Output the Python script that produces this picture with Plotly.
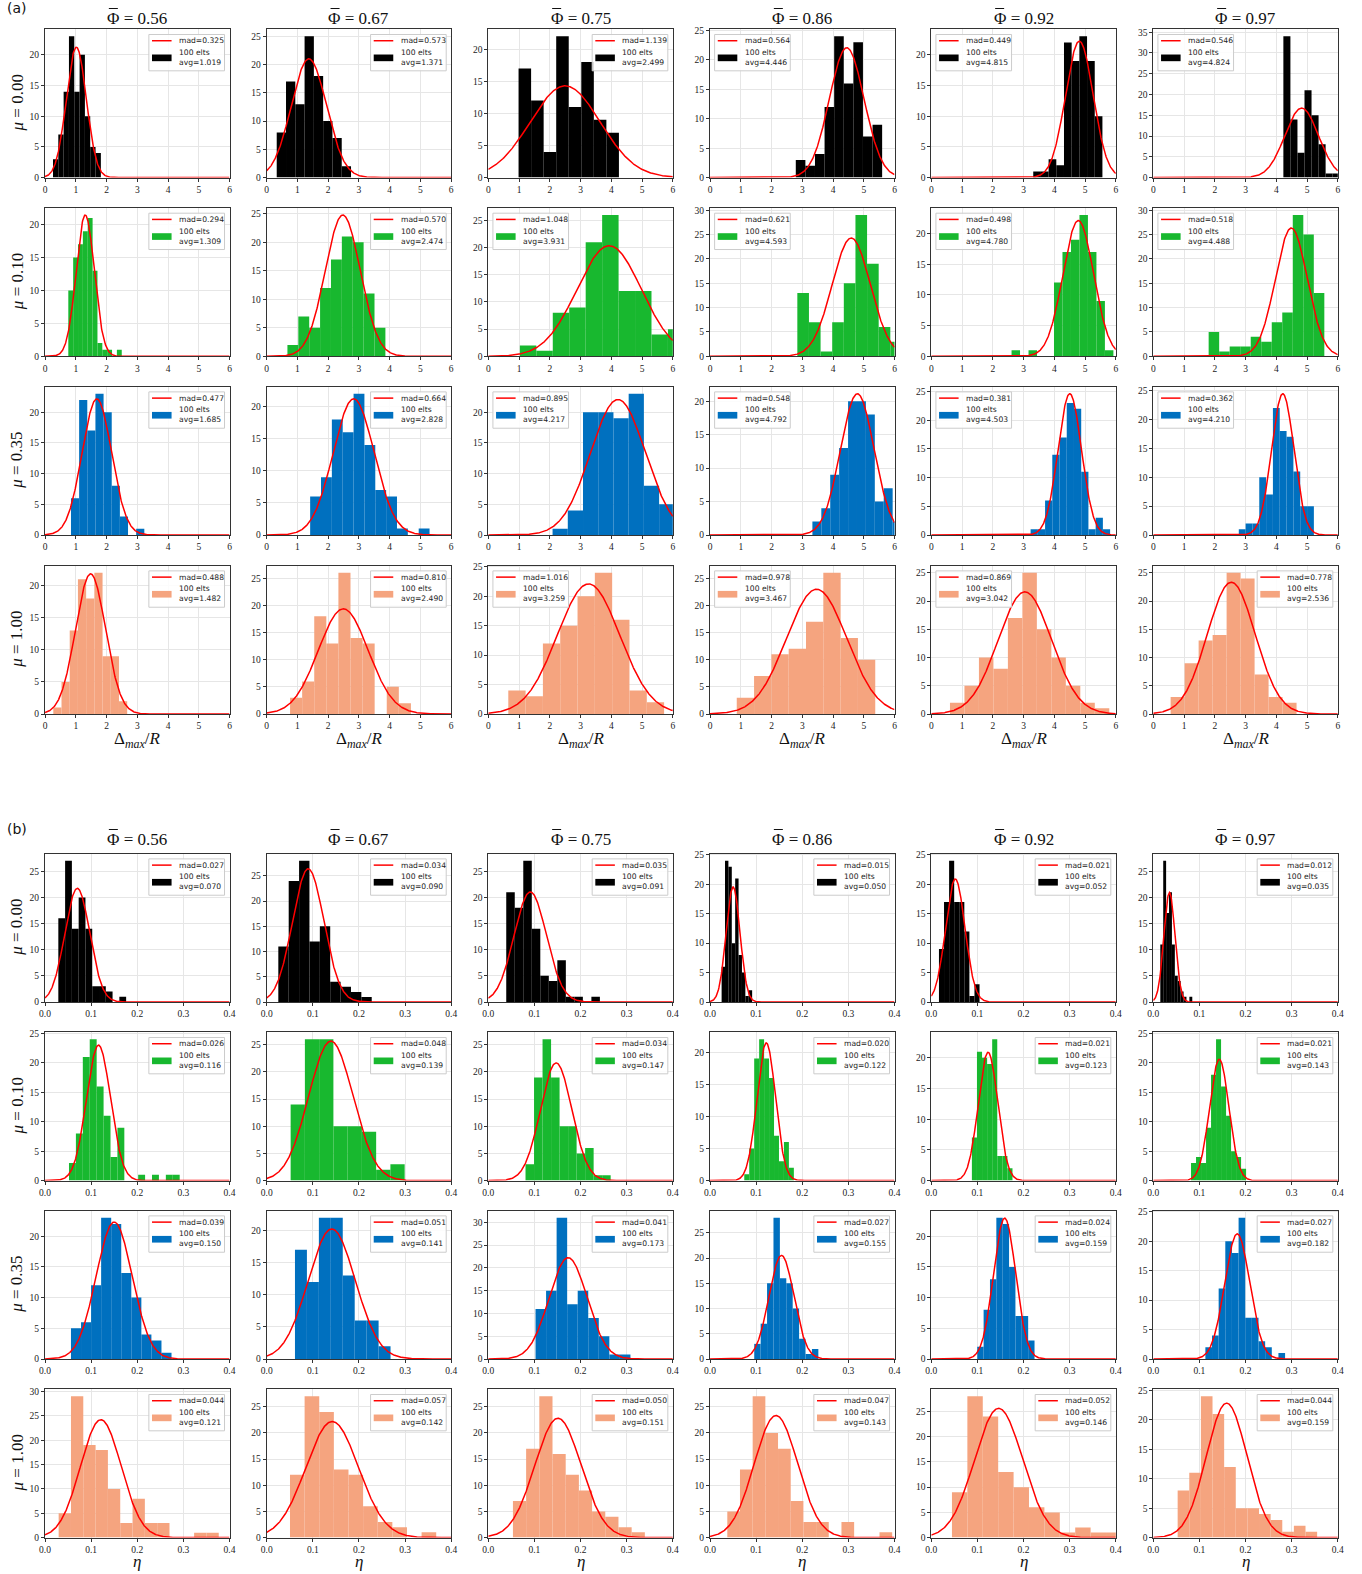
import numpy as np
import plotly.graph_objects as go

# ---------------- data ----------------
PHI_LABELS = ["0.56", "0.67", "0.75", "0.86", "0.92", "0.97"]
MU_LABELS = ["0.00", "0.10", "0.35", "1.00"]
N_ELTS = 100

# (a) Delta_max / R  -- histogram left edge, bin width, counts; stats
A_START = [
    [0.26, 0.326, 0.984, 2.79, 3.315, 4.23],
    [0.758, 0.674, 1.027, 2.84, 2.61, 1.80],
    [0.845, 1.413, 2.09, 3.33, 3.23, 2.78],
    [0.27, 0.76, 0.65, 0.87, 0.607, 0.564],
]
A_WIDTH = [
    [0.173, 0.302, 0.408, 0.312, 0.25, 0.229],
    [0.158, 0.354, 0.535, 0.378, 0.276, 0.342],
    [0.265, 0.353, 0.495, 0.29, 0.235, 0.222],
    [0.267, 0.393, 0.563, 0.563, 0.471, 0.455],
]
A_COUNTS = [
    [[3, 7, 14, 23, 14, 20, 10, 5, 4],
     [8, 17, 13, 25, 18, 10, 7, 2],
     [17, 12, 4, 22, 11, 18, 9, 7],
     [3, 2, 4, 12, 24, 16, 23, 7, 9],
     [1, 1, 3, 2, 22, 19, 23, 19, 10],
     [34, 14, 6, 21, 15, 8, 1, 1]],
    [[10, 15, 17, 19, 21, 13, 2, 1, 1, 0, 1],
     [2, 7, 5, 12, 17, 21, 20, 11, 5],
     [2, 1, 8, 9, 21, 26, 12, 12, 4, 5],
     [13, 7, 1, 7, 15, 29, 19, 6, 3],
     [1, 0, 1, 0, 0, 12, 17, 19, 23, 17, 9, 1],
     [5, 1, 2, 2, 4, 3, 7, 9, 29, 25, 13]],
    [[6, 22, 17, 23, 20, 8, 3, 0, 1],
     [6, 9, 18, 16, 22, 14, 7, 6, 1, 0, 1],
     [1, 4, 20, 20, 19, 23, 8, 5],
     [2, 4, 9, 13, 20, 20, 18, 5, 7, 2],
     [1, 1, 6, 14, 17, 23, 22, 11, 1, 3, 1],
     [1, 2, 2, 10, 7, 22, 18, 17, 11, 5, 5]],
    [[1, 5, 13, 21, 18, 22, 9, 9, 2],
     [3, 6, 18, 13, 26, 14, 13, 0, 5, 2],
     [4, 3, 12, 15, 20, 24, 16, 4, 2],
     [3, 7, 11, 12, 17, 26, 14, 10],
     [2, 5, 10, 8, 17, 25, 15, 10, 5, 2, 1],
     [3, 9, 13, 14, 25, 24, 7, 3, 2]],
]
A_AVG = [
    [1.019, 1.371, 2.499, 4.446, 4.815, 4.824],
    [1.309, 2.474, 3.931, 4.593, 4.780, 4.488],
    [1.685, 2.828, 4.217, 4.792, 4.503, 4.210],
    [1.482, 2.490, 3.259, 3.467, 3.042, 2.536],
]
A_MAD = [
    [0.325, 0.573, 1.139, 0.564, 0.449, 0.546],
    [0.294, 0.570, 1.048, 0.621, 0.498, 0.518],
    [0.477, 0.664, 0.895, 0.548, 0.381, 0.362],
    [0.488, 0.810, 1.016, 0.978, 0.869, 0.778],
]

# (b) eta
B_START = [
    [0.0289, 0.0252, 0.0389, 0.0252, 0.0166, 0.0152],
    [0.052, 0.0519, 0.0807, 0.0743, 0.088, 0.0818],
    [0.0563, 0.0613, 0.1024, 0.0959, 0.0996, 0.1129],
    [0.0296, 0.0505, 0.0534, 0.0375, 0.0448, 0.0528],
]
B_WIDTH = [
    [0.0147, 0.0225, 0.01846, 0.00735, 0.011, 0.0063],
    [0.015, 0.0309, 0.01846, 0.01075, 0.011, 0.01085],
    [0.0218, 0.0259, 0.02286, 0.0139, 0.0138, 0.0144],
    [0.0267, 0.0317, 0.0286, 0.0275, 0.0334, 0.0252],
]
B_COUNTS = [
    [[16, 27, 14, 20, 14, 3, 3, 2, 0, 1],
     [11, 24, 28, 12, 15, 4, 3, 2, 1],
     [21, 18, 27, 14, 5, 4, 8, 1, 1, 0, 1],
     [6, 24, 23, 10, 21, 8, 5, 1, 2],
     [9, 17, 24, 17, 17, 12, 1, 3],
     [11, 27, 17, 21, 11, 5, 4, 2, 1, 0, 1]],
    [[3, 8, 21, 24, 16, 11, 4, 9, 0, 0, 1, 0, 1, 0, 1, 1],
     [14, 26, 26, 10, 10, 9, 2, 3],
     [3, 19, 26, 19, 10, 10, 5, 6, 1, 1],
     [1, 5, 19, 22, 19, 16, 7, 3, 6, 2],
     [7, 21, 20, 19, 23, 4, 4, 2],
     [3, 4, 3, 9, 18, 24, 16, 11, 5, 4, 2]],
    [[5, 6, 12, 23, 22, 14, 10, 4, 3, 1],
     [17, 12, 22, 22, 13, 6, 6, 2],
     [11, 15, 31, 12, 15, 9, 5, 1, 1],
     [3, 7, 15, 28, 16, 15, 10, 4, 1, 2],
     [2, 8, 13, 23, 22, 15, 7, 7, 3],
     [2, 4, 12, 20, 18, 24, 7, 7, 3, 2, 0, 1]],
    [[5, 29, 19, 18, 10, 3, 8, 3, 3, 0, 0, 1, 1],
     [12, 27, 24, 13, 12, 6, 3, 2, 0, 1],
     [7, 17, 27, 16, 12, 9, 5, 4, 2, 1],
     [5, 13, 27, 20, 17, 7, 3, 3, 0, 3, 0, 0, 1],
     [9, 28, 24, 13, 10, 6, 5, 1, 2, 1, 1],
     [8, 11, 24, 21, 12, 5, 5, 4, 3, 1, 2, 1]],
]
B_AVG = [
    [0.070, 0.090, 0.091, 0.050, 0.052, 0.035],
    [0.116, 0.139, 0.147, 0.122, 0.123, 0.143],
    [0.150, 0.141, 0.173, 0.155, 0.159, 0.182],
    [0.121, 0.142, 0.151, 0.143, 0.146, 0.159],
]
B_MAD = [
    [0.027, 0.034, 0.035, 0.015, 0.021, 0.012],
    [0.026, 0.048, 0.034, 0.020, 0.021, 0.021],
    [0.039, 0.051, 0.041, 0.027, 0.024, 0.027],
    [0.044, 0.057, 0.050, 0.047, 0.052, 0.044],
]

A_XTICKS = [0, 1, 2, 3, 4, 5, 6]
A_XTICKTEXT = ["0", "1", "2", "3", "4", "5", "6"]
B_XTICKS = [0.0, 0.1, 0.2, 0.3, 0.4]
B_XTICKTEXT = ["0.0", "0.1", "0.2", "0.3", "0.4"]

# ---------------- style / layout ----------------
ROW_COLORS = ["#000000", "#18b82f", "#0070bf", "#f5a47f"]
A_LEGEND_LEFT = [[0, 0, 0, 1, 1, 1],
                 [0, 0, 1, 1, 1, 1],
                 [0, 0, 1, 1, 1, 1],
                 [0, 0, 1, 1, 1, 0]]
B_LEGEND_LEFT = [[0] * 6 for _ in range(4)]

W, H = 1362, 1574
COL_LEFT = [45, 266.7, 488.3, 710, 931.3, 1153.3]
PW = 184.5
A_ROW_TOP = [29.3, 208, 386.7, 565.7]
B_ROW_TOP = [853.7, 1032.3, 1210.7, 1389.3]
PH = 148.3

SERIF = "Liberation Serif"
SANS = "DejaVu Sans"

fig = go.Figure()
layout = {}
shapes = []
annotations = []


def add_panel(k, left, top, start, width, counts, avg, mad, color, xmax, xticks, xtext, legend_left):
    xs = "" if k == 1 else str(k)
    xname, yname = "x" + xs, "y" + xs
    centers = [start + width * (i + 0.5) for i in range(len(counts))]
    fig.add_trace(go.Bar(x=centers, y=counts, width=[width] * len(counts),
                         marker=dict(color=color, line=dict(width=0)),
                         xaxis=xname, yaxis=yname, showlegend=False, hoverinfo="skip"))
    xg = np.linspace(0, xmax, 500)
    peak = N_ELTS * width / (mad * np.sqrt(2 * np.pi))
    yg = peak * np.exp(-0.5 * ((xg - avg) / mad) ** 2)
    fig.add_trace(go.Scatter(x=xg, y=yg, mode="lines", line=dict(color="#ff0000", width=1.5),
                             xaxis=xname, yaxis=yname, showlegend=False, hoverinfo="skip"))
    ymax = 1.05 * max(max(counts), peak)
    axstyle = dict(showline=True, mirror=True, linecolor="#333333", linewidth=1,
                   ticks="outside", ticklen=3, tickcolor="#333333", tickwidth=0.8,
                   showgrid=True, gridcolor="#e6e6e6", gridwidth=0.8, zeroline=False,
                   automargin=False,
                   tickfont=dict(family=SERIF, size=9.5, color="#222222"))
    layout["xaxis" + xs] = dict(domain=[left / W, (left + PW) / W], anchor=yname,
                                range=[0, xmax], tickmode="array", tickvals=xticks,
                                ticktext=xtext, **axstyle)
    layout["yaxis" + xs] = dict(domain=[1 - (top + PH) / H, 1 - top / H], anchor=xname,
                                range=[0, ymax], tick0=0, dtick=5, **axstyle)
    # legend drawn in axis-domain coords
    xr, yr = xname + " domain", yname + " domain"
    bx0 = 0.025 if legend_left else 0.563
    bx1 = bx0 + 0.41
    shapes.append(dict(type="rect", xref=xr, yref=yr, x0=bx0, x1=bx1, y0=0.72, y1=0.965,
                       line=dict(color="#cccccc", width=1), fillcolor="rgba(255,255,255,0.85)",
                       layer="above"))
    shapes.append(dict(type="line", xref=xr, yref=yr, x0=bx0 + 0.017, x1=bx0 + 0.123,
                       y0=0.923, y1=0.923, line=dict(color="#ff0000", width=1.5), layer="above"))
    shapes.append(dict(type="rect", xref=xr, yref=yr, x0=bx0 + 0.017, x1=bx0 + 0.123,
                       y0=0.785, y1=0.83, line=dict(width=0), fillcolor=color, layer="above"))
    annotations.append(dict(xref=xr, yref=yr, x=bx0 + 0.152, y=0.923, xanchor="left",
                            yanchor="middle", showarrow=False, text="mad=%.3f" % mad,
                            font=dict(family=SANS, size=7.6, color="#222222")))
    annotations.append(dict(xref=xr, yref=yr, x=bx0 + 0.152, y=0.81, xanchor="left",
                            yanchor="middle", showarrow=False, align="left",
                            text="%d elts<br>avg=%.3f" % (N_ELTS, avg),
                            font=dict(family=SANS, size=7.6, color="#222222")))


k = 1
for sec in range(2):
    if sec == 0:
        S, Wd, C, AV, MD, LL, tops = A_START, A_WIDTH, A_COUNTS, A_AVG, A_MAD, A_LEGEND_LEFT, A_ROW_TOP
        xmax, xt, xtt = 6, A_XTICKS, A_XTICKTEXT
    else:
        S, Wd, C, AV, MD, LL, tops = B_START, B_WIDTH, B_COUNTS, B_AVG, B_MAD, B_LEGEND_LEFT, B_ROW_TOP
        xmax, xt, xtt = 0.4, B_XTICKS, B_XTICKTEXT
    for r in range(4):
        for c in range(6):
            add_panel(k, COL_LEFT[c], tops[r], S[r][c], Wd[r][c], C[r][c], AV[r][c], MD[r][c],
                      ROW_COLORS[r], xmax, xt, xtt, LL[r][c])
            k += 1

TITLE_SIZE = 17
# section labels, titles, row labels, x labels
for sec, (lab, title_y, tops, xlab, xlab_y) in enumerate([
        ("(a)", 18, A_ROW_TOP, "Δ<sub><i>max</i></sub>/<i>R</i>", 740),
        ("(b)", 839, B_ROW_TOP, "<i>η</i>", 1561)]):
    annotations.append(dict(xref="paper", yref="paper", x=5 / W, y=1 - (title_y - 10) / H,
                            xanchor="left", yanchor="middle", showarrow=False, text=lab,
                            font=dict(family=SANS, size=14, color="#111111")))
    for c in range(6):
        cpx = COL_LEFT[c] + PW / 2
        cx = cpx / W
        annotations.append(dict(xref="paper", yref="paper", x=cx, y=1 - title_y / H,
                                xanchor="center", yanchor="middle", showarrow=False,
                                text="Φ = " + PHI_LABELS[c],
                                font=dict(family=SERIF, size=TITLE_SIZE, color="#111111")))
        # macron over Phi (text decoration)
        phi_c = cpx - 23.9
        shapes.append(dict(type="line", xref="paper", yref="paper",
                           x0=(phi_c - 4.5) / W, x1=(phi_c + 4.5) / W,
                           y0=1 - (title_y - 9.5) / H, y1=1 - (title_y - 9.5) / H,
                           line=dict(color="#111111", width=1)))
        annotations.append(dict(xref="paper", yref="paper", x=cx, y=1 - xlab_y / H,
                                xanchor="center", yanchor="middle", showarrow=False,
                                text=xlab, font=dict(family=SERIF, size=17, color="#111111")))
    for r in range(4):
        cy = 1 - (tops[r] + PH / 2) / H
        annotations.append(dict(xref="paper", yref="paper", x=17 / W, y=cy,
                                xanchor="center", yanchor="middle", showarrow=False,
                                textangle=-90, text="<i>μ</i> = " + MU_LABELS[r],
                                font=dict(family=SERIF, size=17, color="#111111")))

fig.update_layout(width=W, height=H, margin=dict(l=0, r=0, t=0, b=0),
                  paper_bgcolor="white", plot_bgcolor="white", barmode="overlay",
                  showlegend=False, shapes=shapes, annotations=annotations, **layout)
fig.write_html("out.html", config={"displayModeBar": False},
               post_script="document.body.style.margin='0px';")
